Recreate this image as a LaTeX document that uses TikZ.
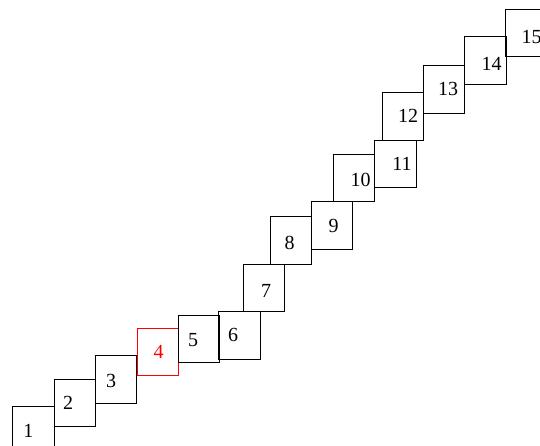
\documentclass[tikz,border=0pt]{standalone}
\usepackage{fontspec}
\setmainfont{Liberation Serif}
\usetikzlibrary{positioning}

\begin{document}
\begin{tikzpicture}[
  x=1pt, y=-1pt,
  cell/.style={draw, line width=0.8pt, minimum width=41.3pt,
              minimum height=47.4pt, inner sep=0pt},
  hotcell/.style={cell, draw=red},
  num/.style={inner sep=0pt, font=\fontsize{20}{24}\selectfont},
  hotnum/.style={num, text=red}
]
\useasboundingbox (0,0) rectangle (540,445);
% the staircase of cells
\node[cell] (box1) at (33.5,430) {};
\node[cell] (box2) at (75,402.8) {};
\node[cell] (box3) at (116.2,379.5) {};
\node[hotcell] (box4) at (157.6,352) {};
\node[cell] (box5) at (198.6,338.6) {};
\node[cell] (box6) at (239.5,335.2) {};
\node[cell] (box7) at (264.2,287.9) {};
\node[cell] (box8) at (290.9,240.4) {};
\node[cell] (box9) at (332.2,225.5) {};
\node[cell] (box10) at (354.2,178) {};
\node[cell] (box11) at (395.4,163.7) {};
\node[cell] (box12) at (402.8,116.2) {};
\node[cell] (box13) at (444.2,89.5) {};
\node[cell] (box14) at (485.5,60.4) {};
\node[cell] (box15) at (526.5,33) {};
% numbers
\node[num] (num1) at (28.3,431) {1};
\node[num] (num2) at (68,403) {2};
\node[num] (num3) at (111,380.5) {3};
\node[hotnum] (num4) at (158.7,352) {4};
\node[num] (num5) at (193,340.5) {5};
\node[num] (num6) at (233,334.5) {6};
\node[num] (num7) at (266,291) {7};
\node[num] (num8) at (289.5,243) {8};
\node[num] (num9) at (333.5,225.7) {9};
\node[num] (num10) at (360.5,179.5) {10};
\node[num] (num11) at (402,164) {11};
\node[num] (num12) at (408,115.8) {12};
\node[num] (num13) at (448,89) {13};
\node[num] (num14) at (491.7,63.5) {14};
\node[num] (num15) at (531.7,36.5) {15};
\end{tikzpicture}
\end{document}
